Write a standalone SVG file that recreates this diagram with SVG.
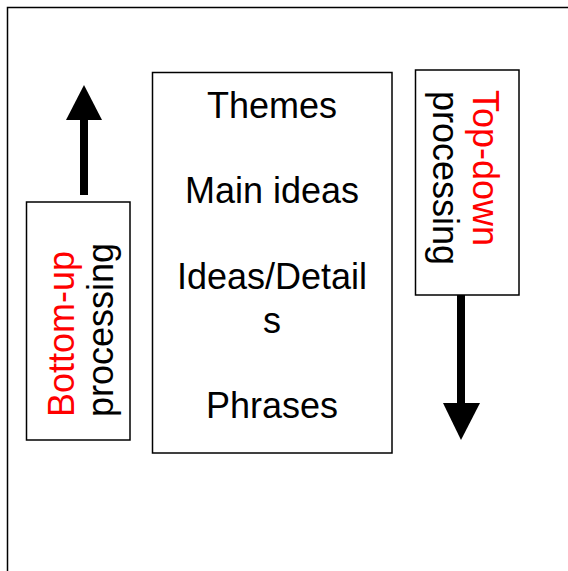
<svg xmlns="http://www.w3.org/2000/svg" width="568" height="571" viewBox="0 0 568 571">
<style>
.box{fill:#fff;stroke:#000;stroke-width:1.5}
.t{font-family:"Liberation Sans",Arial,sans-serif;font-size:36px;fill:#000}
.red{fill:#f00}
.arrow{stroke:#000;stroke-width:8;fill:none}
.head{fill:#000}
</style>
<rect width="568" height="571" fill="#fff"/>
<rect x="7.5" y="7.5" width="620" height="620" fill="none" stroke="#000" stroke-width="1.5"/>
<g id="connectors">
<line class="arrow" x1="84" y1="195" x2="84" y2="118"/>
<polygon class="head" points="66,120 102,120 84,85"/>
<line class="arrow" x1="461" y1="295" x2="461" y2="405"/>
<polygon class="head" points="443,403 480,403 461,440"/>
</g>
<g id="levels">
<rect class="box" x="152.5" y="72.5" width="239.5" height="380.5"/>
<text class="t" x="272" y="118" text-anchor="middle">Themes</text>
<text class="t" x="272" y="203" text-anchor="middle">Main ideas</text>
<text class="t" x="272" y="289" text-anchor="middle">Ideas/Detail</text>
<text class="t" x="272" y="333" text-anchor="middle">s</text>
<text class="t" x="272" y="418" text-anchor="middle">Phrases</text>
</g>
<g id="bottom-up">
<rect class="box" x="26.5" y="202" width="103.5" height="238"/>
<text class="t red" transform="translate(74,417) rotate(-90)">Bottom-up</text>
<text class="t" transform="translate(113,417) rotate(-90)">processing</text>
</g>
<g id="top-down">
<rect class="box" x="415.5" y="70" width="103.5" height="225"/>
<text class="t red" transform="translate(473,90) rotate(90)">Top-down</text>
<text class="t" transform="translate(433,91) rotate(90)">processing</text>
</g>
</svg>
